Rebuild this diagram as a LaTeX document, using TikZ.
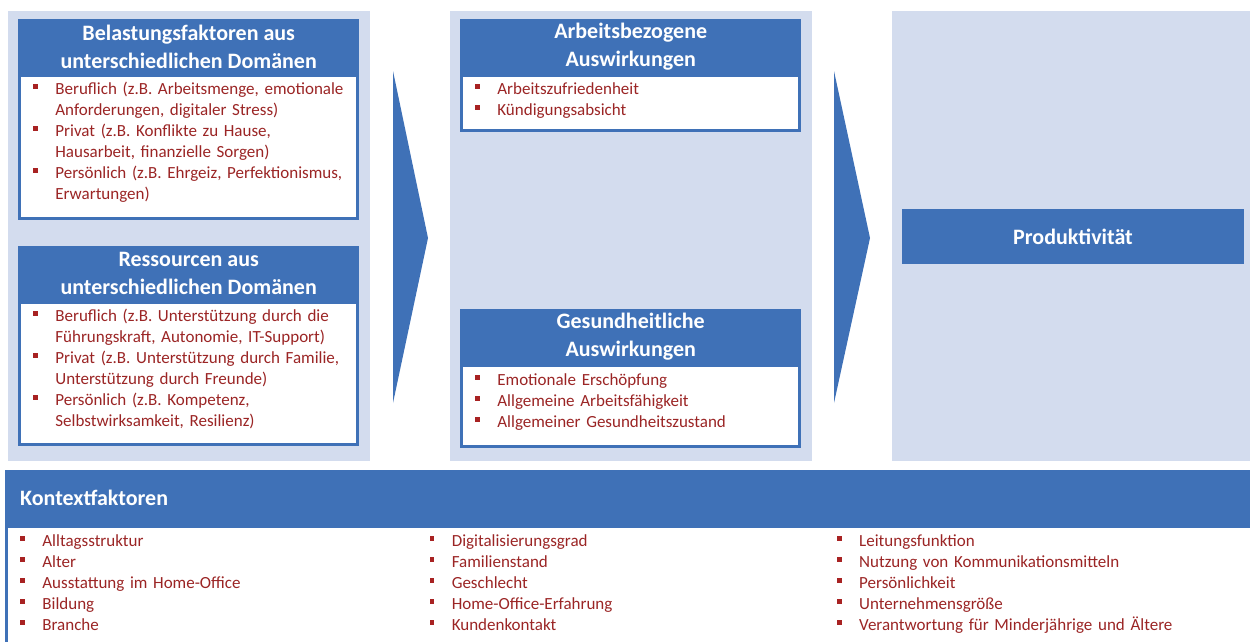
\documentclass[tikz,border=0pt]{standalone}
\usepackage{fontspec}
\setmainfont{Carlito}
\usepackage{xcolor}
\usetikzlibrary{positioning}
\definecolor{boxblue}{HTML}{3F71B7}
\definecolor{panelblue}{HTML}{D3DCEE}
\definecolor{itemred}{HTML}{9B2525}
\definecolor{dotred}{HTML}{A82222}
\newcommand{\bitem}[1]{\noindent\leftskip=10pt\hangindent=22pt\hangafter=1%
  \makebox[22pt][l]{\strut{\color{dotred}\rule[6pt]{4.5pt}{4.5pt}}}#1\par}

\begin{document}
\begin{tikzpicture}[x=1pt, y=1pt,
  panel/.style={fill=panelblue, inner sep=0pt, anchor=north west,
                minimum height=450pt},
  head/.style={fill=boxblue, text=white, inner sep=0pt, align=center,
               minimum height=55pt, font=\fontsize{22}{28}\selectfont\bfseries},
  body/.style={fill=white, draw=boxblue, line width=3pt, inner sep=0pt,
               minimum width=338pt},
  list/.style={inner sep=0pt, anchor=north west, align=left, text=itemred,
               text width=331pt, font=\fontsize{17}{21}\selectfont},
  tri/.style={fill=boxblue}]
\clip (0,0) rectangle (1250,-641);
\node[panel, minimum width=362pt] (pl) at (8,-11) {};
\node[panel, minimum width=362pt] (pm) at (450,-11) {};
\node[panel, minimum width=370pt] (pr) at (892,-11) {};

\node[head, anchor=north west, minimum width=341pt] (h1) at (18,-19)
  {Belastungsfaktoren aus\\unterschiedlichen Domänen};
\node[body, below=0pt of h1, minimum height=143pt] (b1) {};
\node[list, below right=5.5pt and 5pt of b1.north west] (l1)
  {\bitem{Beruflich (z.B. Arbeitsmenge, emotionale\newline Anforderungen, digitaler Stress)}
   \bitem{Privat (z.B. Konflikte zu Hause,\newline Hausarbeit, finanzielle Sorgen)}
   \bitem{Persönlich (z.B. Ehrgeiz, Perfektionismus,\newline Erwartungen)}};

\node[head, anchor=north west, minimum width=341pt] (h2) at (18,-246)
  {Ressourcen aus\\unterschiedlichen Domänen};
\node[body, below=0pt of h2, minimum height=142pt] (b2) {};
\node[list, below right=5.5pt and 5pt of b2.north west] (l2)
  {\bitem{Beruflich (z.B. Unterstützung durch die\newline Führungskraft, Autonomie, IT-Support)}
   \bitem{Privat (z.B. Unterstützung durch Familie,\newline Unterstützung durch Freunde)}
   \bitem{Persönlich (z.B. Kompetenz,\newline Selbstwirksamkeit, Resilienz)}};

\node[head, anchor=north west, minimum width=341pt] (h3) at (460,-19)
  {Arbeitsbezogene\\Auswirkungen};
\node[body, below=0pt of h3, minimum height=55pt] (b3) {};
\node[list, below right=5.5pt and 5pt of b3.north west] (l3)
  {\bitem{Arbeitszufriedenheit}
   \bitem{Kündigungsabsicht}};

\node[head, anchor=north west, minimum width=341pt] (h4) at (460,-309)
  {Gesundheitliche\\Auswirkungen};
\node[body, below=0pt of h4, minimum height=81pt] (b4) {};
\node[list, below right=6.5pt and 5pt of b4.north west] (l4)
  {\bitem{Emotionale Erschöpfung}
   \bitem{Allgemeine Arbeitsfähigkeit}
   \bitem{Allgemeiner Gesundheitszustand}};

\fill[tri] (393,-71) -- (428,-238) -- (393,-403) -- cycle;
\fill[tri] (834,-71) -- (870,-238) -- (834,-403) -- cycle;

\node[head, minimum width=342pt] (prod) at (1073,-236.5) {Produktivität};

\node[head, anchor=north west, minimum width=1250pt, text width=1220pt,
      inner xsep=15pt, align=left] (hk) at (5,-470) {Kontextfaktoren};
\node[body, below=0pt of hk, minimum width=1247pt, minimum height=140pt] (bk) {};
\node[list, text width=409pt, below right=6.5pt and 5pt of bk.north west] (k1)
  {\bitem{Alltagsstruktur}
   \bitem{Alter}
   \bitem{Ausstattung im Home-Office}
   \bitem{Bildung}
   \bitem{Branche}};
\node[list, text width=409pt] (k2) at (k1.north east)
  {\bitem{Digitalisierungsgrad}
   \bitem{Familienstand}
   \bitem{Geschlecht}
   \bitem{Home-Office-Erfahrung}
   \bitem{Kundenkontakt}};
\node[list, text width=400pt, xshift=-2pt] (k3) at (k2.north east)
  {\bitem{Leitungsfunktion}
   \bitem{Nutzung von Kommunikationsmitteln}
   \bitem{Persönlichkeit}
   \bitem{Unternehmensgröße}
   \bitem{Verantwortung für Minderjährige und Ältere}};
\end{tikzpicture}
\end{document}
